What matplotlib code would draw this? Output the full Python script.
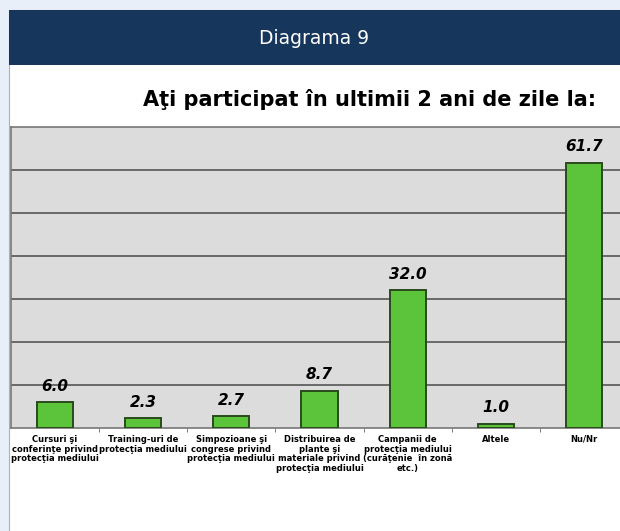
import matplotlib.pyplot as plt
import matplotlib.patches as patches

# data
categories = [
    "Cursuri şi\nconferinţe privind\nprotecţia mediului",
    "Training-uri de\nprotecţia mediului",
    "Simpozioane şi\ncongrese privind\nprotecţia mediului",
    "Distribuirea de\nplante şi\nmateriale privind\nprotecţia mediului",
    "Campanii de\nprotecţia mediului\n(curăţenie  în zonă\netc.)",
    "Altele",
    "Nu/Nr",
]
values = [6.0, 2.3, 2.7, 8.7, 32.0, 1.0, 61.7]

fig = plt.figure(figsize=(6.2, 5.31), dpi=100)
fig.patch.set_facecolor("#e9eff8")

# background axes for the white panel and navy header
bg = fig.add_axes([0, 0, 1, 1], zorder=-10)
bg.set_xlim(0, 620)
bg.set_ylim(531, 0)
bg.axis("off")
bg.add_patch(patches.Rectangle((9, 10), 640, 600, facecolor="white",
                               edgecolor="#b0b0b0", linewidth=0.8))
bg.add_patch(patches.Rectangle((9, 10), 640, 55, facecolor="#16365c", edgecolor="none"))
bg.text(314, 38, "Diagrama 9", color="white", fontsize=13.5,
        family="DejaVu Sans", ha="center", va="center")
bg.text(370, 100, "Aţi participat în ultimii 2 ani de zile la:",
        fontsize=15, fontweight="bold", family="DejaVu Sans", ha="center", va="center")

ax = fig.add_axes([11 / 620, 1 - 428 / 531, 1 - 11 / 620 + 0.02, (428 - 127) / 531])
ax.set_facecolor("#dcdcdc")
x = range(len(values))
ax.bar(x, values, width=0.41, color="#5cc43a", edgecolor="#2a4a1c", linewidth=1.4, zorder=3)
for i, v in enumerate(values):
    ax.annotate(f"{v:.1f}", (i, v), xytext=(0, 11.5), textcoords="offset points",
                ha="center", va="center", fontsize=11, fontweight="bold",
                fontstyle="italic", family="DejaVu Sans", zorder=4)

ax.set_ylim(0, 70)
ax.set_xlim(-0.5, 6.55)
ax.set_yticks(range(10, 70, 10))
ax.yaxis.grid(True, color="#555555", linewidth=1.2, zorder=1)
ax.tick_params(axis="y", left=False, labelleft=False)
ax.set_xticks(list(x))
ax.set_xticklabels(categories, fontsize=6, fontweight="bold", family="DejaVu Sans",
                   linespacing=1.1, va="top")
ax.tick_params(axis="x", length=0, pad=5)
ax.set_xticks([i + 0.5 for i in range(6)], minor=True)
ax.tick_params(axis="x", which="minor", length=3, color="#666666")
for s in ax.spines.values():
    s.set_color("#777777")
    s.set_linewidth(1.2)

plt.savefig("out.png", dpi=100)
